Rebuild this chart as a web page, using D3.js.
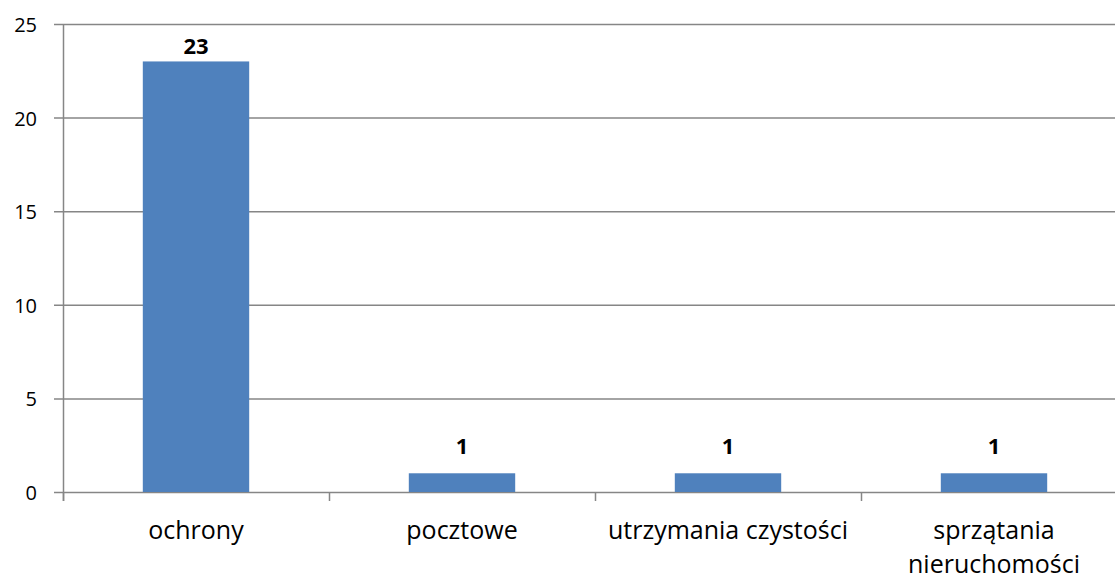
<!DOCTYPE html>
<html>
<head>
<meta charset="utf-8">
<script src="https://cdn.jsdelivr.net/npm/d3@7"></script>
<style>
  body { margin: 0; background: #fff; }
  svg text { font-family: "Open Sans", Lato, sans-serif; fill: #000; }
</style>
</head>
<body>
<div id="chart"></div>
<script>
// chart data
var categories = ["ochrony", "pocztowe", "utrzymania czystości", "sprzątania nieruchomości"];
var categoryLines = [["ochrony"], ["pocztowe"], ["utrzymania czystości"], ["sprzątania", "nieruchomości"]];
var values = [23, 1, 1, 1];
var yTicks = [0, 5, 10, 15, 20, 25];

var width = 1115, height = 579;
var margin = { top: 24, left: 63, bottom: 87 };
var plotW = 1064;

var svg = d3.select("#chart").append("svg")
    .attr("width", width)
    .attr("height", height);

var x = d3.scaleBand()
    .domain(categories)
    .range([margin.left, margin.left + plotW])
    .paddingInner(0.6)
    .paddingOuter(0.3);

var xOuter = d3.scaleBand()
    .domain(categories)
    .range([margin.left, margin.left + plotW]);

var y = d3.scaleLinear()
    .domain([0, 25])
    .range([height - margin.bottom, margin.top]);

// gridlines
svg.append("g")
    .selectAll("line")
    .data(yTicks)
    .enter().append("line")
    .attr("x1", margin.left - 9)
    .attr("x2", margin.left + plotW)
    .attr("y1", function (d) { return y(d) + 0.5; })
    .attr("y2", function (d) { return y(d) + 0.5; })
    .style("stroke", "#868686")
    .style("stroke-width", 1.5);

// y axis line
svg.append("line")
    .attr("x1", margin.left + 0.5).attr("x2", margin.left + 0.5)
    .attr("y1", margin.top).attr("y2", y(0) + 9)
    .style("stroke", "#868686")
    .style("stroke-width", 1.5);

// x ticks between categories
svg.append("g")
    .selectAll("line")
    .data(categories)
    .enter().append("line")
    .attr("x1", function (d) { return xOuter(d) + 0.5; })
    .attr("x2", function (d) { return xOuter(d) + 0.5; })
    .attr("y1", y(0))
    .attr("y2", y(0) + 9)
    .style("stroke", "#868686")
    .style("stroke-width", 1.5);

// y labels
svg.append("g")
    .selectAll("text")
    .data(yTicks)
    .enter().append("text")
    .attr("x", 37)
    .attr("y", function (d) { return y(d) + 1; })
    .attr("dy", "0.35em")
    .attr("text-anchor", "end")
    .style("font-size", "20px")
    .text(function (d) { return d; });

// bars
svg.append("g")
    .selectAll("rect")
    .data(values)
    .enter().append("rect")
    .attr("x", function (d, i) { return x(categories[i]); })
    .attr("y", function (d) { return y(d); })
    .attr("width", x.bandwidth())
    .attr("height", function (d) { return y(0) - y(d); })
    .style("fill", "#4f81bd");

// value labels (kept inside the plot area near the top)
svg.append("g")
    .selectAll("text")
    .data(values)
    .enter().append("text")
    .attr("x", function (d, i) { return x(categories[i]) + x.bandwidth() / 2; })
    .attr("y", function (d) { return Math.max(y(d) - 19, margin.top + 30); })
    .attr("text-anchor", "middle")
    .style("font-size", "22px")
    .style("font-weight", "bold")
    .text(function (d) { return d; });

// category labels
var catLabels = svg.append("g")
    .selectAll("text")
    .data(categories)
    .enter().append("text")
    .attr("x", function (d) { return xOuter(d) + xOuter.bandwidth() / 2; })
    .attr("y", 539)
    .attr("text-anchor", "middle")
    .style("font-size", "25px");

catLabels.each(function (d, i) {
    var t = d3.select(this);
    categoryLines[i].forEach(function (line, j) {
        t.append("tspan")
            .attr("x", xOuter(d) + xOuter.bandwidth() / 2)
            .attr("dy", j === 0 ? 0 : 34)
            .text(line);
    });
});
</script>
</body>
</html>
